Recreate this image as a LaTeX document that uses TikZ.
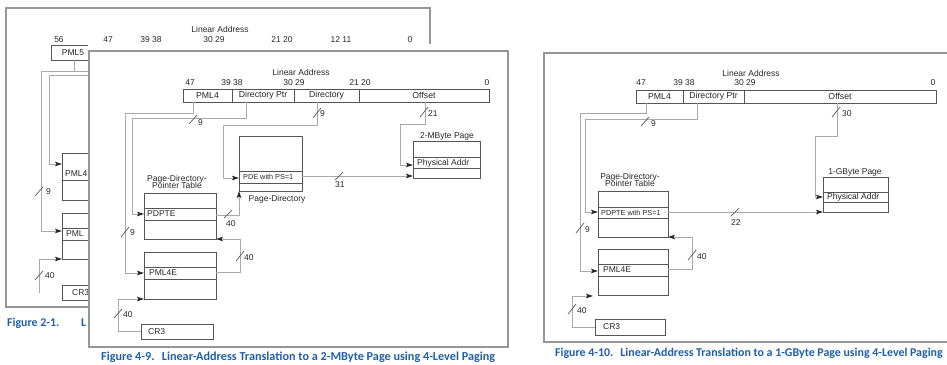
\documentclass[tikz,border=0pt]{standalone}
\usepackage{fontspec}
\setmainfont{Liberation Sans}
\newfontfamily\capfont{Carlito}
\usetikzlibrary{arrows.meta,calc}
\definecolor{capblue}{RGB}{30,95,172}
\definecolor{framegray}{RGB}{150,150,150}
\definecolor{conngray}{RGB}{170,170,170}
\definecolor{boxgray}{RGB}{85,85,85}
\definecolor{txtgray}{RGB}{40,40,40}
\newcommand\bx[6]{\node[box,minimum width={(#4-#2)*1pt},minimum height={(#5-#3)*1pt}] (#1) at (#2,#3) {#6};}
\newcommand\rowln[2]{\draw[draw=boxgray,line width=0.8pt] (#1.west |- 0,#2) -- (#1.east |- 0,#2);}
\begin{document}
\begin{tikzpicture}[x=1pt,y=-1pt,
  frm/.style={draw=framegray,line width=1.3pt},
  box/.style={draw=boxgray,line width=0.8pt,anchor=north west,inner sep=0pt,outer sep=0pt,font=\fontsize{8.7}{9}\selectfont,text=txtgray},
  conn/.style={draw=conngray,line width=0.9pt},
  arr/.style={conn,-{Stealth[length=7pt,width=4.5pt,inset=1.5pt,color=black!85]}},
  lbl/.style={font=\fontsize{8.5}{9}\selectfont,inner sep=0pt,text=txtgray},
  sml/.style={font=\fontsize{7.3}{8}\selectfont,inner sep=0pt,text=txtgray},
  capt/.style={font=\capfont\bfseries\fontsize{11.9}{12}\selectfont,text=capblue,inner sep=0pt,anchor=west},
  tk/.style={draw=boxgray,line width=0.7pt},
]
\useasboundingbox (0,0) rectangle (947,364);
\fill[white] (0,0) rectangle (947,364);

% ================= back panel (Figure 2-1) =================
\draw[frm] (6,8) rectangle (430,307);
\node[lbl] (bla) at (220,29) {Linear Address};
\node[lbl] at (59,40) {56};
\node[lbl] at (108,40) {47};
\node[lbl] at (151,40) {39\ 38};
\node[lbl] at (214,40) {30\ 29};
\node[lbl] at (282,40) {21\ 20};
\node[lbl] at (341,40) {12\ 11};
\node[lbl] at (410,40) {0};
\bx{bPML5}{51}{45}{100}{60}{}
\node[lbl] at (73,53) {PML5};
\draw[conn] (bPML5.south -| 74,0) -- (74,71);
\coordinate (bIn1) at (100,71);
\coordinate (bIn2) at (100,75);
\bx{bPML4}{62}{153}{100}{200}{}
\rowln{bPML4}{180}
\node[lbl,anchor=west] at (65,174) {PML4};
\bx{bPDPT}{62}{213}{100}{259}{}
\rowln{bPDPT}{228}
\rowln{bPDPT}{240}
\node[lbl,anchor=west] at (66,234) {PML};
\bx{bCR3}{62}{285}{100}{300}{}
\node[lbl,anchor=west] at (72,293) {CR3};
\draw[arr] (bIn1) -- (41,71) |- (bPDPT.west |- 0,231);
\draw[arr] (bIn2) -- (49,75) |- (bPML4.west |- 0,164);
\coordinate (bLow) at (39,293);
\draw[arr] (bLow) |- (bPDPT.south west);
\draw[tk] (35,196) -- (43,187); \node[lbl,anchor=west] at (46,192) {9};
\draw[tk] (35,280) -- (43,271); \node[lbl,anchor=west] at (45,276) {40};
\node[capt] at (7,323) {Figure 2-1.};
\node[capt] at (81,323) {L};

% white area of the middle screenshot
\fill[white] (88,44) rectangle (535,364);

% ================= middle panel (Figure 4-9) =================
\draw[frm] (89,51) rectangle (508,347);
\node[lbl] at (301,72) {Linear Address};
\node[lbl] at (190,83) {47};
\node[lbl] at (232,83) {39\ 38};
\node[lbl] at (294,83) {30\ 29};
\node[lbl] at (360,83) {21\ 20};
\node[lbl] at (487,83) {0};
\bx{mF1}{183}{89}{232}{102}{PML4}
\bx{mF2}{232}{89}{294}{102}{Directory Ptr}
\bx{mF3}{294}{89}{359}{102}{Directory}
\bx{mF4}{359}{89}{489}{102}{Offset}

\bx{mPD}{239}{136}{302}{191}{}
\rowln{mPD}{171}
\rowln{mPD}{183}
\node[sml,anchor=west] at (243,177) {PDE with PS=1};
\node[lbl] at (277,199) {Page-Directory};

\bx{mPG}{413}{141}{480}{178}{}
\rowln{mPG}{157}
\rowln{mPG}{168}
\node[lbl,anchor=west] at (417,163) {Physical Addr};
\node[lbl] at (447,136) {2-MByte Page};

\bx{mPDPT}{144}{193}{216}{239}{}
\rowln{mPDPT}{208}
\rowln{mPDPT}{220}
\node[lbl,anchor=west] at (147,214) {PDPTE};
\node[lbl,align=center] at (177,182) {Page-Directory-\\[-1.5pt]Pointer Table};

\bx{mPML4E}{144}{252}{216}{299}{}
\rowln{mPML4E}{267}
\rowln{mPML4E}{279}
\node[lbl,anchor=west] at (149,273) {PML4E};

\bx{mCR3}{141}{324}{213}{339}{}
\node[lbl,anchor=west] at (148,332) {CR3};

\draw[arr] ($(mF1.south west)+(10,0)$) |- (125,113) |- (mPML4E.west |- 0,273);
\draw[arr] ($(mF2.south west)+(14,0)$) |- (132,118) |- (mPDPT.west |- 0,214);
\draw[arr] ($(mF3.south west)+(23,0)$) |- (223,125) |- (mPD.west |- 0,178);
\draw[arr] ($(mF4.south west)+(66,0)$) |- (400,124) |- (mPG.west |- 0,165);
\draw[arr] (mPDPT.east |- 0,215) -| (mPD.south west);
\draw[arr] (mPD.east |- 0,176) -- (mPG.west |- 0,176);
\draw[arr] (mPML4E.east |- 0,272) -| (240,239) -- (mPDPT.south east);
\draw[arr] (mCR3.west) -| (118,299) -- (mPML4E.south west);

\draw[tk] (121,237) -- (129,227); \node[lbl,anchor=west] at (130,233) {9};
\draw[tk] (189,124) -- (197,115); \node[lbl,anchor=west] at (198,123) {9};
\draw[tk] (313,118) -- (321,108); \node[lbl,anchor=west] at (320,114) {9};
\draw[tk] (420,117) -- (428,107); \node[lbl,anchor=west] at (428,114) {21};
\draw[tk] (224,218) -- (232,210); \node[lbl,anchor=west] at (226,224) {40};
\draw[tk] (335,180) -- (343,172); \node[lbl,anchor=west] at (335,185) {31};
\draw[tk] (236,261) -- (244,251); \node[lbl,anchor=west] at (244,258) {40};
\draw[tk] (114,318) -- (122,309); \node[lbl,anchor=west] at (123,315) {40};

\node[capt,font=\capfont\bfseries\fontsize{12.2}{13}\selectfont] at (101,357) {Figure 4-9.\hspace{0.6em}Linear-Address Translation to a 2-MByte Page using 4-Level Paging};

% ================= right panel (Figure 4-10) =================
\draw[frm] (947,53) -- (544,53) -- (544,342) -- (947,342);
\node[lbl] at (751,73) {Linear Address};
\node[lbl] at (641,83) {47};
\node[lbl] at (684,83) {39\ 38};
\node[lbl] at (745,83) {30\ 29};
\node[lbl] at (933,83) {0};
\bx{rF1}{636}{90}{683}{103}{PML4}
\bx{rF2}{683}{90}{744}{103}{Directory Ptr}
\bx{rF3}{744}{90}{936}{103}{Offset}

\bx{rPG}{823}{177}{888}{212}{}
\rowln{rPG}{192}
\rowln{rPG}{202}
\node[lbl,anchor=west] at (827,197) {Physical Addr};
\node[lbl] at (855,172) {1-GByte Page};

\bx{rPDPT}{598}{191}{668}{237}{}
\rowln{rPDPT}{207}
\rowln{rPDPT}{218}
\node[sml,anchor=west] at (601,213) {PDPTE with PS=1};
\node[lbl,align=center] at (630,180) {Page-Directory-\\[-1.5pt]Pointer Table};

\bx{rPML4E}{598}{249}{668}{295}{}
\rowln{rPML4E}{264}
\rowln{rPML4E}{276}
\node[lbl,anchor=west] at (603,270) {PML4E};

\bx{rCR3}{595}{319}{665}{335}{}
\node[lbl,anchor=west] at (603,327) {CR3};

\draw[arr] ($(rF1.south west)+(10,0)$) |- (580,113) |- (rPML4E.west |- 0,271);
\draw[arr] ($(rF2.south west)+(14,0)$) |- (585,119) |- (rPDPT.west |- 0,212);
\draw[arr] ($(rF3.south west)+(93,0)$) |- (815,136) |- (rPG.west |- 0,197);
\draw[arr] (rPDPT.east |- rPG.south west) -- (rPG.south west);
\draw[arr] (rPML4E.east |- 0,269) -| (692,237) -- (rPDPT.south east);
\draw[arr] (rCR3.west) -| (572,296) -- ($(rPML4E.south west)+(-5,1)$);

\draw[tk] (576,233) -- (584,223); \node[lbl,anchor=west] at (585,230) {9};
\draw[tk] (641,126) -- (649,117); \node[lbl,anchor=west] at (651,124) {9};
\draw[tk] (832,117) -- (840,107); \node[lbl,anchor=west] at (842,114) {30};
\draw[tk] (731,216) -- (739,208); \node[lbl,anchor=west] at (731,223) {22};
\draw[tk] (688,260) -- (696,250); \node[lbl,anchor=west] at (697,257) {40};
\draw[tk] (568,314) -- (576,304); \node[lbl,anchor=west] at (577,311) {40};

\node[capt] at (555,353) {Figure 4-10.\hspace{0.6em}Linear-Address Translation to a 1-GByte Page using 4-Level Paging};
\end{tikzpicture}
\end{document}
